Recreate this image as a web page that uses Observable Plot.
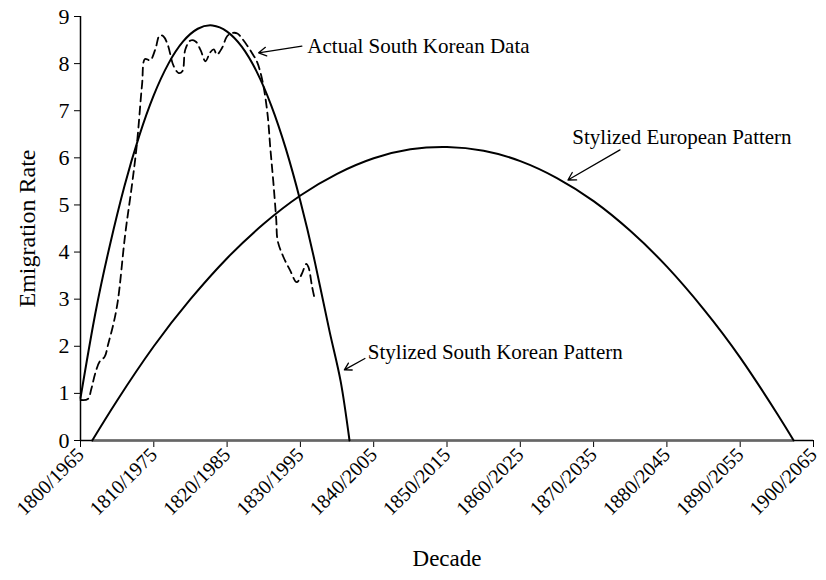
<!DOCTYPE html>
<html><head><meta charset="utf-8">
<script src="https://cdn.jsdelivr.net/npm/d3@7"></script>
<script src="https://cdn.jsdelivr.net/npm/@observablehq/plot@0.6"></script>
<style>body{margin:0;background:#fff}</style>
</head><body><div id="chart"></div>
<script>
// Tick positions (years from start) and their decade labels
const tickYears = [0, 10, 20, 30, 40, 50, 60, 70, 80, 90, 100];
const tickLabels = ["1800/1965","1810/1975","1820/1985","1830/1995","1840/2005","1850/2015","1860/2025","1870/2035","1880/2045","1890/2055","1900/2065"];
const yTicks = [0,1,2,3,4,5,6,7,8,9];

// Actual South Korean data (dashed)
const actualYears  = [0,1.0,1.5,2.0,2.6,3.3,3.8,4.5,5.1,6.1,7.0,7.7,8.4,8.8,9.5,10.2,10.8,11.3,11.9,12.7,13.4,13.9,14.3,15.0,15.7,16.4,17.05,17.7,18.2,18.6,19.3,20.0,20.7,21.4,22.1,22.8,23.5,24.1,24.8,25.5,25.9,26.3,26.7,26.9,27.7,28.6,29.5,30.2,30.8,31.1,31.6,32.0];
const actualValues = [0.86,0.88,1.11,1.42,1.67,1.78,2.06,2.48,2.97,4.38,5.4,6.3,7.56,8.1,8.07,8.3,8.6,8.58,8.4,7.95,7.8,7.84,8.3,8.49,8.47,8.28,8.05,8.24,8.3,8.19,8.33,8.58,8.65,8.64,8.52,8.37,8.2,8.03,7.65,6.95,6.2,5.5,4.7,4.24,3.89,3.61,3.36,3.54,3.75,3.68,3.26,2.97];

// Stylized South Korean pattern
const skYears  = [0,2,4,6,8,10,12,14,16,18,20,22,24,26,28,30,32,34,35.5,36.7];
const skValues = [0.9,2.68,4.14,5.4,6.46,7.33,8.0,8.47,8.74,8.81,8.68,8.36,7.84,7.12,6.2,5.08,3.77,2.3,1.25,0];

// Stylized European pattern
const euYears  = [1.6,5,10,15,20,25,30,35,40,45,50,55,60,65,70,75,80,85,90,95,97.3];
const euValues = [0,0.85,2.0,3.0,3.87,4.6,5.2,5.66,5.99,6.18,6.23,6.15,5.93,5.57,5.08,4.45,3.69,2.79,1.76,0.58,0];

// Annotations (data coordinates)
const annoLabels = ["Actual South Korean Data","Stylized European Pattern","Stylized South Korean Pattern"];
const annoTextX = [30.95, 67.1, 39.2];
const annoTextY = [8.37, 6.44, 1.88];
const arrowX1 = [30.2, 73.6, 38.8];
const arrowY1 = [8.37, 6.17, 1.74];
const arrowX2 = [24.3, 66.5, 36.0];
const arrowY2 = [8.23, 5.53, 1.5];

const actual = actualYears.map((x,i)=>({x, y: actualValues[i]}));
const sk = skYears.map((x,i)=>({x, y: skValues[i]}));
const eu = euYears.map((x,i)=>({x, y: euValues[i]}));
const annos = annoLabels.map((t,i)=>({t, x: annoTextX[i], y: annoTextY[i], x1: arrowX1[i], y1: arrowY1[i], x2: arrowX2[i], y2: arrowY2[i]}));

const font = "Liberation Serif, Times New Roman, serif";

const chart = Plot.plot({
  width: 826,
  height: 580,
  marginLeft: 80,
  marginRight: 13,
  marginTop: 16,
  marginBottom: 140,
  style: {fontFamily: font, background: "#fff", color: "#000"},
  x: {domain: [0, 100]},
  y: {domain: [0, 9]},
  marks: [
    Plot.axisY({ticks: yTicks, tickSize: 6, tickPadding: 5, fontSize: 22, label: null, tickFormat: d => d}),
    Plot.axisX({ticks: tickYears, tickSize: 7, tickPadding: 4, tickRotate: -45, fontSize: 20, label: null, tickFormat: (d) => tickLabels[tickYears.indexOf(d)]}),
    Plot.text(["Emigration Rate"], {frameAnchor: "left", textAnchor: "middle", dx: -53, rotate: -90, fontSize: 24, fill: "#000"}),
    Plot.text(["Decade"], {frameAnchor: "bottom", textAnchor: "middle", dy: 125, fontSize: 23, fill: "#000"}),
    Plot.ruleX([0], {stroke: "#000", strokeWidth: 1.5}),
    Plot.ruleY([0], {stroke: "#000", strokeWidth: 1.5}),
    Plot.ruleY([0], {x1: euYears[0], x2: euYears[euYears.length-1], stroke: "#666", strokeWidth: 2.5}),
    Plot.line(eu, {x: "x", y: "y", curve: "natural", stroke: "#000", strokeWidth: 2}),
    Plot.line(sk, {x: "x", y: "y", curve: "natural", stroke: "#000", strokeWidth: 2}),
    Plot.line(actual, {x: "x", y: "y", curve: "catmull-rom", stroke: "#000", strokeWidth: 1.8, strokeDasharray: "8,5"}),
    Plot.arrow(annos, {x1: "x1", y1: "y1", x2: "x2", y2: "y2", stroke: "#000", strokeWidth: 1.3, headLength: 10}),
    Plot.text(annos, {x: "x", y: "y", text: "t", textAnchor: "start", fontSize: 21, fill: "#000"})
  ]
});
document.getElementById("chart").appendChild(chart);
</script>
</body></html>
